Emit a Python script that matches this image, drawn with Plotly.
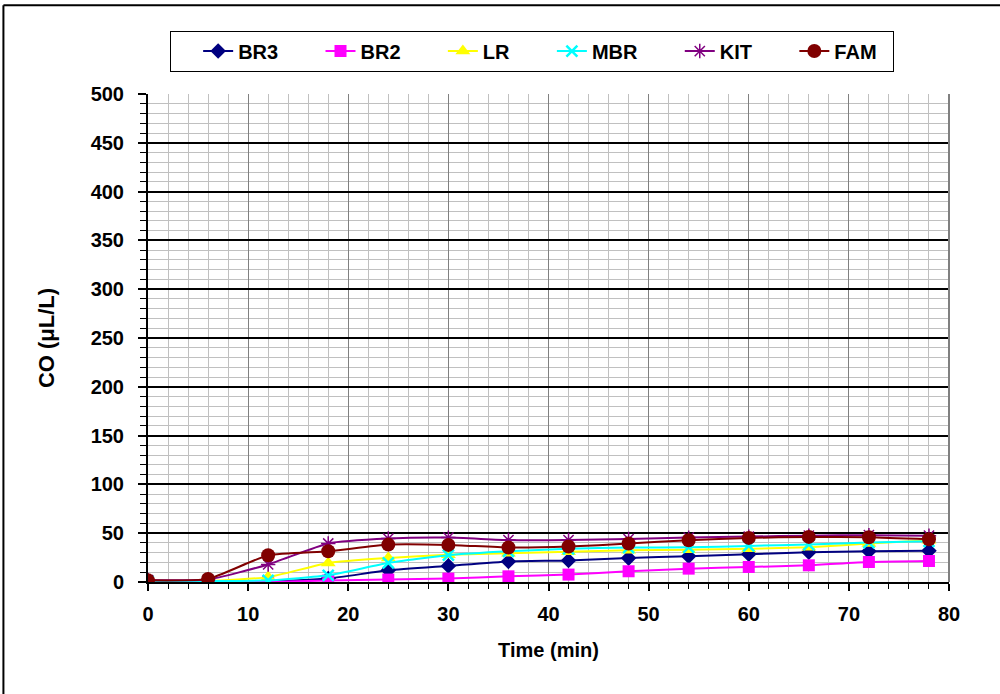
import plotly.graph_objects as go

time_min = [0, 6, 12, 18, 24, 30, 36, 42, 48, 54, 60, 66, 72, 78]

br3 = [1, 1, 0.5, 3.5, 12, 16.5, 21, 22, 24.5, 26.5, 28.5, 30.5, 31.5, 32]
br2 = [0, 0, 0, 1.5, 2.5, 3.5, 5.8, 7.6, 11, 13.7, 15.4, 17.1, 20.5, 21.5]
lr = [1, 1, 5, 19.5, 24.6, 28, 29.5, 31, 32.5, 33, 34, 35.6, 39.4, 42.8]
mbr = [1, 1, 1.7, 6.9, 19.5, 27.5, 31.5, 34, 35.3, 35.5, 37, 38.3, 40.4, 41.7]
kit = [2, 2.5, 18, 39.5, 44.5, 45.5, 43, 43, 44, 45.5, 46.5, 47.5, 48, 47.5]
fam = [1.7, 3.2, 27.4, 31.5, 38.3, 38, 35.3, 36.3, 39.4, 42.8, 45.2, 46.2, 45.9, 43.8]

series_names = ["BR3", "BR2", "LR", "MBR", "KIT", "FAM"]

styles = [
    ("#000080", "diamond", 12, None),
    ("#FF00FF", "square", 12, None),
    ("#FFFF00", "triangle-up", 13, None),
    ("#00FFFF", "x-thin-open", 11, 2.5),
    ("#800080", "asterisk-open", 12, 1.5),
    ("#800000", "circle", 14, None),
]

FONT = "Liberation Sans, Arial, sans-serif"
PAD = "\u00a0" * 6 + "\u2009"

fig = go.Figure()
for i, (name, vals) in enumerate(zip(series_names, [br3, br2, lr, mbr, kit, fam])):
    color, sym, size, mlw = styles[i]
    marker = dict(symbol=sym, size=size, color=color)
    marker["line"] = dict(color=color, width=mlw) if mlw is not None else dict(width=0)
    label = name + (PAD if i < len(series_names) - 1 else "\u00a0\u00a0")
    fig.add_trace(go.Scatter(
        x=time_min, y=vals, name=label, mode="lines+markers",
        line=dict(color=color, width=2, shape="spline", smoothing=0.5),
        marker=marker,
    ))

fig.update_layout(
    width=1000, height=694,
    margin=dict(l=148, r=51, t=94, b=112),
    paper_bgcolor="white", plot_bgcolor="white",
    font=dict(family=FONT, size=20, color="black"),
    showlegend=True,
    legend=dict(
        orientation="h", x=0.48, xanchor="center", y=1.13, yanchor="top",
        bordercolor="black", borderwidth=1, bgcolor="white",
        font=dict(family=FONT, size=20, color="black", weight="bold"),
        traceorder="normal",
        title=dict(text="\u00a0\u00a0\u00a0", side="left",
                   font=dict(family=FONT, size=20)),
    ),
    xaxis=dict(
        range=[0, 80], dtick=10, tick0=0,
        showgrid=True, gridcolor="#808080", gridwidth=1,
        minor=dict(dtick=2, showgrid=True, gridcolor="#C0C0C0", gridwidth=1,
                   ticks="outside", ticklen=5, tickcolor="black", tickwidth=1),
        ticks="outside", ticklen=7, tickcolor="black", tickwidth=2,
        showline=True, linecolor="black", linewidth=2, mirror=False,
        zeroline=False, ticklabelstandoff=6,
        tickfont=dict(family=FONT, size=20, weight="bold"),
        title=dict(text="Time (min)", font=dict(family=FONT, size=20, weight="bold"), standoff=19),
    ),
    yaxis=dict(
        range=[0, 500], dtick=50, tick0=0,
        showgrid=True, gridcolor="black", gridwidth=1.5,
        minor=dict(dtick=10, showgrid=True, gridcolor="#C0C0C0", gridwidth=1,
                   ticks="outside", ticklen=6, tickcolor="black", tickwidth=1),
        ticks="outside", ticklen=8, tickcolor="black", tickwidth=2,
        showline=True, linecolor="black", linewidth=2,
        zeroline=False, ticklabelstandoff=10,
        tickfont=dict(family=FONT, size=20, weight="bold"),
        title=dict(text="CO (μL/L)", font=dict(family=FONT, size=22, weight="bold"), standoff=30),
    ),
    shapes=[
        dict(type="line", xref="paper", yref="paper", x0=1, x1=1, y0=0, y1=1,
             line=dict(color="#808080", width=2)),
        dict(type="line", xref="paper", yref="paper", x0=-0.1805, x1=1.065, y0=1.182, y1=1.182,
             line=dict(color="black", width=2), layer="below"),
        dict(type="line", xref="paper", yref="paper", x0=-0.1805, x1=-0.1805, y0=-0.3, y1=1.182,
             line=dict(color="black", width=2), layer="below"),
    ],
)

fig.write_html(
    "out.html", config={"displayModeBar": False},
    post_script=("document.body.style.margin='0';document.body.style.overflow='hidden';"
                 "document.documentElement.style.overflow='hidden';"),
)
